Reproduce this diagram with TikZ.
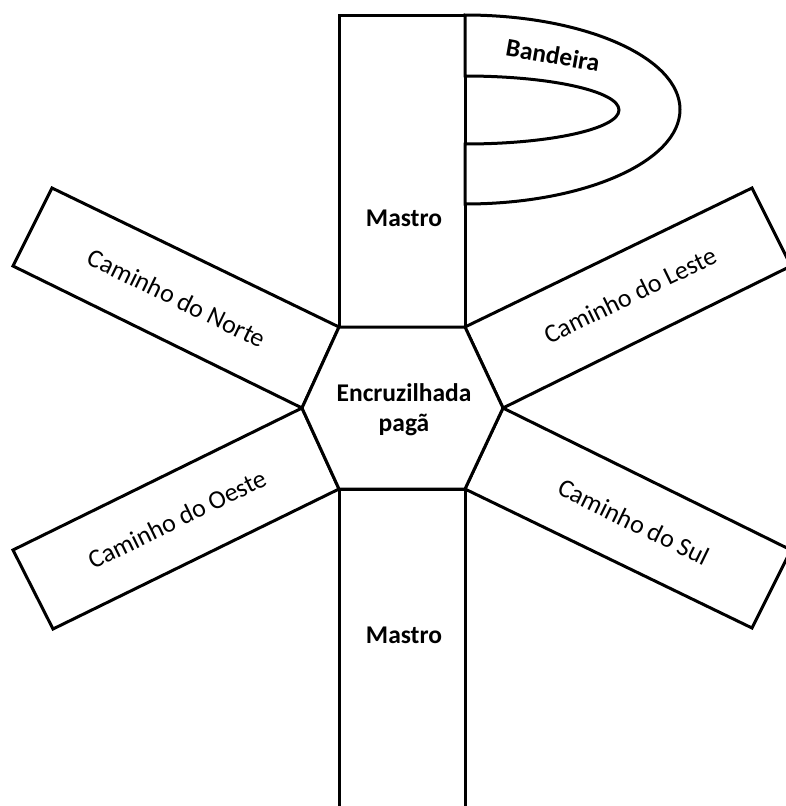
\documentclass[tikz,border=0pt]{standalone}
\usepackage{fontspec}
\setmainfont{Carlito}
\begin{document}
\begin{tikzpicture}[x=1pt,y=-1pt,
  shape line/.style={draw=black,line width=3pt,fill=white,line join=miter},
  boldlabel/.style={font=\fontsize{25.5}{30}\selectfont\bfseries,align=center,inner sep=0pt},
  plainlabel/.style={font=\fontsize{26}{30}\selectfont,align=center,inner sep=0pt}]
\clip (0,0) rectangle (786,806);
\fill[white] (0,0) rectangle (786,806);
% masts
\draw[shape line] (339,15) rectangle (465,327);
\draw[shape line] (339,489) rectangle (465,830);
% flag
\draw[shape line] (465,15) arc[start angle=-90,end angle=90,x radius=215,y radius=94.5]
  -- (465,144) arc[start angle=90,end angle=-90,x radius=154,y radius=34] -- cycle;
% arms
\draw[shape line] (339,327) -- (52,188) -- (13,266) -- (302,408) -- cycle;
\draw[shape line] (465,327) -- (752,188) -- (791,266) -- (503,408) -- cycle;
\draw[shape line] (302,408) -- (13,550) -- (53,629) -- (339,489) -- cycle;
\draw[shape line] (503,408) -- (791,550) -- (752,628) -- (465,489) -- cycle;
% hexagon
\draw[shape line] (339,327) -- (465,327) -- (503,408) -- (465,489) -- (339,489) -- (302,408) -- cycle;
% labels
\node[boldlabel] (mastroTop) at (404,218) {Mastro};
\node[boldlabel] (mastroBot) at (404,635) {Mastro};
\node[boldlabel,rotate=-10] (bandeira) at (553,55) {Bandeira};
\node[boldlabel] (centro) at (404,410) {Encruzilhada\\pagã};
\node[plainlabel,rotate=-26] (norte) at (177,298) {Caminho do Norte};
\node[plainlabel,rotate=26] (leste) at (630,295) {Caminho do Leste};
\node[plainlabel,rotate=26] (oeste) at (177,519) {Caminho do Oeste};
\node[plainlabel,rotate=-26] (sul) at (634,522) {Caminho do Sul};
\end{tikzpicture}
\end{document}
